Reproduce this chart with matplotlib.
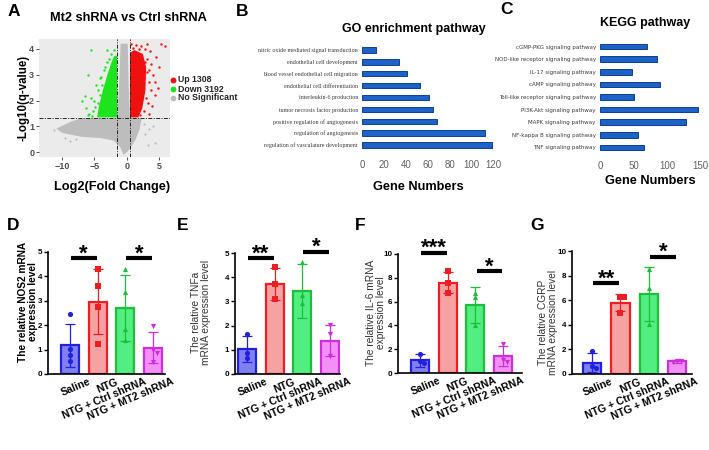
import matplotlib
matplotlib.use('Agg')
import matplotlib.pyplot as plt
from matplotlib.lines import Line2D
from matplotlib.transforms import Bbox, TransformedBbox, ScaledTranslation

plt.rcParams['font.family'] = ['Liberation Sans', 'DejaVu Sans']

# ---- panel A: volcano (dense cloud outlines + sparse points)
red_hull_x = [0.5, 0.5, 1.2, 2.5, 3.0, 2.9, 2.4, 1.8]
red_hull_y = [1.35, 3.85, 3.95, 3.8, 3.3, 2.4, 1.7, 1.35]
red_pts_x = [3.2, 3.5, 3.8, 4.1, 3.4, 3.7, 3.0, 3.3, 2.7, 4.3, 3.9, 2.9, 3.6, 1.5, 2.2, 0.7,
             3.1, 4.6, 5.0, 4.4, 6.0, 5.3, 2.6, 3.1, 2.8, 1.0, 1.9, 3.4, 4.8, 2.1]
red_pts_y = [3.6, 3.2, 3.4, 3.0, 2.7, 2.4, 2.1, 1.9, 1.6, 2.2, 1.8, 4.0, 3.9, 4.15, 4.1, 4.2,
             4.2, 3.7, 3.3, 2.7, 4.1, 4.2, 2.9, 3.1, 3.5, 4.05, 3.98, 1.5, 2.5, 1.45]
green_hull_x = [-1.5, -4.6, -4.3, -3.7, -3.0, -2.4, -2.0, -1.5]
green_hull_y = [1.35, 1.35, 1.8, 2.4, 3.0, 3.45, 3.7, 3.75]
green_pts_x = [-3.6, -4.0, -4.5, -5.0, -5.2, -5.8, -4.2, -3.8, -3.0, -2.5, -6.0, -6.5, -5.5,
               -7.0, -5.5, -3.1, -6.0, -4.7, -4.2, -2.0, -6.3, -4.9, -5.4, -3.4, -4.4, -2.7]
green_pts_y = [3.2, 2.9, 2.4, 2.0, 1.6, 1.5, 2.2, 2.6, 3.5, 3.8, 3.0, 2.16, 2.1, 1.97, 3.96,
               3.96, 1.45, 2.6, 2.87, 3.95, 1.7, 1.75, 1.42, 3.3, 1.9, 3.6]
gray_v_x = [-1.46, -1.2, -0.95, 0.15, 0.3, 0.5]
gray_v_y = [1.32, 2.5, 4.2, 4.2, 2.5, 1.32]
gray_low_x = [-10.9, -8.5, -7.0, 2.3, 2.0, 1.3, 0.2, -0.5, -1.0, -2.0, -4.0, -7.0, -10.0]
gray_low_y = [0.92, 1.2, 1.32, 1.32, 0.9, 0.45, 0.05, -0.1, 0.2, 0.45, 0.55, 0.6, 0.75]
gray_pts_x = [-8.85, -7.8, 3.3, 4.3, 4.1, -10.3, -8.6, 2.8, 2.6, 3.5, -9.5, -11.3]
gray_pts_y = [0.42, 0.5, 0.29, 0.35, 1.0, 0.9, 0.95, 0.7, 1.1, 0.9, 0.55, 0.85]
volcano_labels = ['Up 1308', 'Down 3192', 'No Significant']

# ---- panel B / C
go_terms = ['nitric oxide mediated signal transduction', 'endothelial cell development',
            'blood vessel endothelial cell migration', 'endothelial cell differentiation',
            'interleukin-6 production', 'tumor necrosis factor production',
            'positive regulation of angiogenesis', 'regulation of angiogenesis',
            'regulation of vasculature development']
go_counts = [13, 34, 41, 53, 61, 65, 68, 112, 118]
kegg_terms = ['cGMP-PKG signaling pathway', 'NOD-like receptor signaling pathway',
              'IL-17 signaling pathway', 'cAMP signaling pathway',
              'Toll-like receptor signaling pathway', 'PI3K-Akt signaling pathway',
              'MAPK signaling pathway', 'NF-kappa B signaling pathway', 'TNF signaling pathway']
kegg_counts = [70, 85, 48, 90, 51, 146, 128, 57, 66]

# ---- panels D-G
groups = ['Saline', 'NTG', 'NTG + Ctrl shRNA', 'NTG + MT2 shRNA']
nos2_mean = [1.17, 2.97, 2.72, 1.08]
nos2_sd = [0.88, 1.32, 1.35, 0.64]
nos2_pts = [[2.45, 1.02, 0.78, 0.53], [4.3, 3.6, 2.75, 1.25], [4.3, 3.35, 1.85, 1.38], [1.98, 1.0, 0.87, 0.5]]
tnfa_mean = [1.03, 3.72, 3.43, 1.38]
tnfa_sd = [0.54, 0.67, 1.1, 0.65]
tnfa_pts = [[1.65, 0.85, 0.65], [4.43, 3.72, 3.09], [4.61, 3.26, 2.95], [2.02, 1.65, 0.74]]
il6_mean = [1.07, 7.6, 5.7, 1.4]
il6_sd = [0.53, 0.9, 1.5, 0.85]
il6_pts = [[1.57, 0.98, 0.87], [8.6, 7.58, 6.74], [6.74, 6.4, 4.07], [2.42, 1.07, 0.96]]
cgrp_mean = [0.92, 5.81, 6.49, 1.03]
cgrp_sd = [0.75, 0.7, 2.2, 0.12]
cgrp_pts = [[1.86, 0.68, 0.46], [6.27, 6.27, 4.97], [8.57, 7.03, 4.03], [1.08, 1.05, 1.0]]

W, H = 709, 450
fig = plt.figure(figsize=(W / 100, H / 100), dpi=100)


def box(l, t, r, b):
    return [l / W, 1 - b / H, (r - l) / W, (b - t) / H]


def ftext(x, y, s, **kw):
    return fig.text(x / W, 1 - y / H, s, **kw)


# panel letters
for lab, (x, y) in zip('ABCDEFG', [(8, 12), (236, 11), (500, 10), (7, 226),
                                   (177, 226), (355, 226), (530, 226)]):
    ftext(x, y, lab, fontsize=12.5, weight='bold', va='center', ha='left')

# ---------------- A
ax = fig.add_axes(box(39, 39, 170, 157))
ax.set_facecolor('#ebebeb')
gcol, rcol, ncol = '#1ee41e', '#f01010', '#bdbdbd'
ax.fill(gray_low_x, gray_low_y, color=ncol, lw=0)
ax.fill(gray_v_x, gray_v_y, color=ncol, lw=0)
ax.scatter(gray_pts_x, gray_pts_y, s=2.5, color=ncol, lw=0)
ax.fill(green_hull_x, green_hull_y, color=gcol, lw=0)
ax.scatter(green_pts_x, green_pts_y, s=3, color=gcol, lw=0)
ax.fill(red_hull_x, red_hull_y, color=rcol, lw=0)
ax.scatter(red_pts_x, red_pts_y, s=3, color=rcol, lw=0)
ls = (0, (4, 1.5, 1, 1.5))
ax.axhline(1.32, color='#222222', lw=0.7, ls=ls)
ax.axvline(-1.46, color='#222222', lw=0.7, ls=ls)
ax.axvline(0.5, color='#222222', lw=0.7, ls=ls)
ax.set_xlim(-13.6, 6.7)
ax.set_ylim(-0.18, 4.38)
ax.set_xticks([-10, -5, 0, 5])
ax.set_yticks([0, 1, 2, 3, 4])
for s in ax.spines.values():
    s.set_visible(False)
ax.tick_params(length=2, width=0.6, color='#333333', labelsize=6.5, labelcolor='#4d4d4d', pad=1.5)
for t in ax.get_xticklabels() + ax.get_yticklabels():
    t.set_fontweight('bold')
ftext(128, 18, 'Mt2 shRNA vs Ctrl shRNA', fontsize=9.2, weight='bold', ha='center', va='center')
ftext(112, 187, 'Log2(Fold Change)', fontsize=9.2, weight='bold', ha='center', va='center')
ftext(24, 98, '-Log10(q-value)', fontsize=8.3, weight='bold', ha='center', va='center', rotation=90)
clip = TransformedBbox(Bbox.from_extents(0, 0, 243 / W, 1), fig.transFigure)
for lab, c, y in zip(volcano_labels, [rcol, gcol, ncol], [80, 89, 98]):
    fig.add_artist(Line2D([173 / W], [1 - y / H], transform=fig.transFigure, marker='o',
                          ms=3.2, color=c, lw=0))
    t = ftext(177.5, y, lab, fontsize=6.3, weight='bold', color='#222222', va='center', ha='left')
    t.set_clip_box(clip)
    t.set_clip_on(True)


# ---------------- B / C
def pathway(rect, terms, counts, xmax, xticks, family, lsize, pad):
    a = fig.add_axes(box(*rect))
    y = list(range(len(terms)))
    a.barh(y, counts, height=0.45, color='#1d62c6', edgecolor='#0e3f8e', lw=0.7)
    a.set_yticks(y, terms)
    for t in a.get_yticklabels():
        t.set_family(family)
        t.set_fontsize(lsize)
        t.set_color('#3a3a3a')
    a.set_ylim(len(terms) - 0.4, -0.6)
    a.set_xlim(0, xmax)
    a.set_xticks(xticks)
    for s in a.spines.values():
        s.set_visible(False)
    a.tick_params(axis='y', length=0, pad=3)
    a.tick_params(axis='x', length=0, pad=pad, labelsize=7, labelcolor='#606060')
    return a


pathway((362, 43, 496, 152), go_terms, go_counts, 122, range(0, 121, 20),
        'Liberation Serif', 4.3, 6)
ftext(414, 29, 'GO enrichment pathway', fontsize=9, weight='bold', ha='center', va='center')
ftext(418, 187, 'Gene Numbers', fontsize=9.2, weight='bold', ha='center', va='center')
pathway((600, 39, 703, 155), kegg_terms, kegg_counts, 154, [0, 50, 100, 150],
        'Liberation Sans Narrow', 4.0, 4)
ftext(645, 23, 'KEGG pathway', fontsize=9, weight='bold', ha='center', va='center')
ftext(650, 181, 'Gene Numbers', fontsize=9.2, weight='bold', ha='center', va='center')

# ---------------- D-G
fills = ['#8080f2', '#f7a2a2', '#52ee82', '#f290f6']
edges = ['#2121dc', '#ec1e24', '#1fbd3c', '#cc2edc']
markers = ['o', 's', '^', 'v']


def bar_panel(rect, xlim, ymax, ystep, means, sds, pts, sigs, marks):
    a = fig.add_axes(box(*rect))
    x = list(range(len(groups)))
    a.bar(x, means, width=0.65, color=fills, edgecolor=edges, lw=1.6, zorder=2)
    for i in x:
        a.errorbar(i, means[i], yerr=sds[i], color=edges[i], lw=0.9, capsize=3.5,
                   capthick=0.9, zorder=3)
        seen = []
        for v in pts[i]:
            near = sum(1 for u in seen if abs(u - v) < ymax * 0.03)
            dx = [0, 0.14, -0.14][min(near, 2)]
            seen.append(v)
            a.scatter(i + dx, v, s=14, marker=markers[i], color=edges[i], lw=0, zorder=4)
    for (i, j, h), m in zip(sigs, marks):
        a.plot([i + 0.04, j - 0.04], [h, h], color='black', lw=3, solid_capstyle='butt',
               clip_on=False)
        a.annotate(m, ((i + j) / 2, h), xytext=(0, -1.0), textcoords='offset points',
                   ha='center', va='baseline', fontsize=16, weight='bold', annotation_clip=False)
    a.set_xlim(*xlim)
    a.set_ylim(0, ymax)
    a.set_yticks(range(0, ymax + 1, ystep))
    a.spines['top'].set_visible(False)
    a.spines['right'].set_visible(False)
    a.spines['left'].set_linewidth(1.2)
    a.spines['bottom'].set_linewidth(1.2)
    a.tick_params(length=3, width=1, labelsize=5.8, pad=1)
    for t in a.get_yticklabels():
        t.set_fontweight('bold')
    a.set_xticks(x, groups, rotation=23, ha='right', va='top', rotation_mode='anchor',
                 fontsize=7.6, weight='bold')
    a.tick_params(axis='x', length=0, pad=2)
    off = ScaledTranslation(0.18, 0, fig.dpi_scale_trans)
    for t in a.get_xticklabels():
        t.set_transform(t.get_transform() + off)
    return a


bar_panel((48, 252, 165, 374), (-0.79, 3.43), 5, 1, nos2_mean, nos2_sd, nos2_pts,
          [(0, 1, 4.75), (2, 3, 4.75)], ['*', '*'])
ftext(28, 302, 'The relative NOS2 mRNA\nexpression level', fontsize=7.3, weight='bold',
      rotation=90, ha='center', va='center', linespacing=1.1)
bar_panel((235, 253, 340, 374), (-0.43, 3.36), 5, 1, tnfa_mean, tnfa_sd, tnfa_pts,
          [(0, 1, 4.78), (2, 3, 5.05)], ['**', '*'])
ftext(201, 312, 'The relative TNFa\nmRNA expression level', fontsize=7.3,
      rotation=90, ha='center', va='center', linespacing=1.1, color='#333333')
bar_panel((398, 254, 522, 373), (-0.79, 3.68), 10, 2, il6_mean, il6_sd, il6_pts,
          [(0, 1, 10.1), (2, 3, 8.57)], ['***', '*'])
ftext(376, 313, 'The relative IL-6 mRNA\nexpression level', fontsize=7.3,
      rotation=90, ha='center', va='center', linespacing=1.1, color='#333333')
bar_panel((572, 251, 692, 374), (-0.71, 3.53), 10, 2, cgrp_mean, cgrp_sd, cgrp_pts,
          [(0, 1, 7.37), (2, 3, 9.53)], ['**', '*'])
ftext(548, 322, 'The relative CGRP\nmRNA expression level', fontsize=7.3,
      rotation=90, ha='center', va='center', linespacing=1.1, color='#333333')

fig.savefig('out.png', dpi=100)
